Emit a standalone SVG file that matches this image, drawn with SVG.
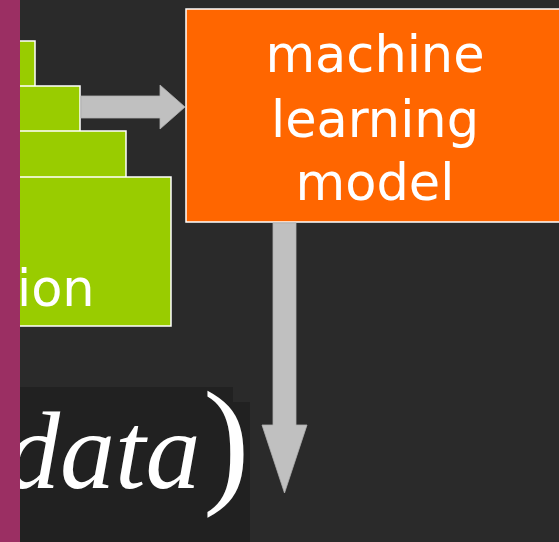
<svg xmlns="http://www.w3.org/2000/svg" width="559" height="542" viewBox="0 0 559 542">
<style>
.green{fill:#99cc00;stroke:#ffffff;stroke-width:1.5}
.arrow{fill:#c0c0c0;stroke:#b0b0b0;stroke-width:0.8}
.lbl{font-family:"DejaVu Sans",Verdana,sans-serif;font-size:51px;fill:#ffffff}
.math{font-family:"Liberation Serif","Times New Roman",serif;fill:#ffffff}
</style>
<rect x="0" y="0" width="559" height="542" fill="#2a2a2a"/>
<g id="formula">
<rect x="20" y="387" width="213" height="155" fill="#212121"/>
<rect x="20" y="402" width="230" height="140" fill="#212121"/>
<text class="math" x="5" y="488" font-size="110" font-style="italic">data</text>
<text class="math" x="203" y="488" font-size="140">)</text>
</g>
<g id="stack">
<rect class="green" x="-10" y="41" width="45" height="60"/>
<rect class="green" x="-10" y="86" width="90" height="60"/>
<rect class="green" x="-10" y="131" width="136" height="60"/>
<rect class="green" x="-10" y="177" width="181" height="149"/>
<text class="lbl" x="17" y="306">ion</text>
</g>
<g id="model">
<rect x="186" y="9" width="400" height="213" fill="#ff6600" stroke="#ffffff" stroke-width="1.5"/>
<text class="lbl" text-anchor="middle"><tspan x="375" y="72">machine</tspan><tspan x="375" y="137">learning</tspan><tspan x="375" y="200">model</tspan></text>
</g>
<g id="connectors">
<polygon class="arrow" points="81,96 160,96 160,85 185,107 160,129 160,118 81,118"/>
<polygon class="arrow" points="273,223 296,223 296,425 307,425 284.5,493 262,425 273,425"/>
</g>
<rect id="sidebar" x="0" y="0" width="20" height="542" fill="#9b2f63"/>
</svg>
